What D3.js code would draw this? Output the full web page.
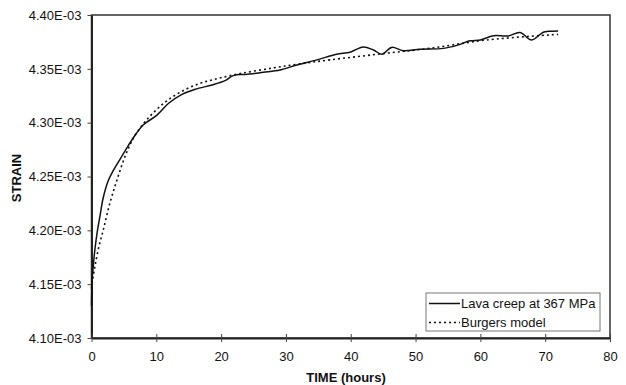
<!DOCTYPE html>
<html>
<head>
<meta charset="utf-8">
<script src="https://cdn.jsdelivr.net/npm/d3@7"></script>
<style>
  body { margin: 0; background: #fff; }
  svg { font-family: "Liberation Sans", Arial, sans-serif; }
</style>
</head>
<body>
<svg id="chart" width="626" height="385"></svg>
<script>
// strain values are in units of 1E-03
var creepTime = [0, 0.1, 0.26, 0.52, 0.92, 1.3, 1.8, 2.58, 3.5, 4.6, 5.7, 6.8, 8.0, 10.1, 11.9, 13.9,
  16.0, 18.6, 20.6, 21.6, 22.4, 23.7, 26.5, 29.1, 31.7, 34.8, 37.8, 39.9, 41.9, 43.5, 44.8, 46.3,
  48.1, 50.7, 54.3, 56.5, 58.4, 60.0, 62.0, 64.3, 66.1, 67.9, 69.7, 70.5, 72.0];
var creepStrain = [4.130, 4.154, 4.166, 4.182, 4.200, 4.213, 4.230, 4.246, 4.257, 4.268, 4.279,
  4.289, 4.298, 4.307, 4.318, 4.326, 4.331, 4.335, 4.339, 4.343, 4.3445, 4.3447, 4.3468, 4.349,
  4.3536, 4.3583, 4.3636, 4.3654, 4.3703, 4.3675, 4.3636, 4.3699, 4.3669, 4.3682, 4.369, 4.372,
  4.376, 4.3768, 4.3808, 4.3806, 4.3838, 4.3768, 4.384, 4.3848, 4.3852];

var modelTime = [0, 0.15, 0.52, 1.03, 1.8, 2.83, 4.1, 5.4, 6.7, 8.5, 10.85, 13.4, 16.5, 19.6, 23.2,
  28, 32, 36.8, 44.5, 52.2, 61, 72];
var modelStrain = [4.146, 4.153, 4.166, 4.182, 4.200, 4.225, 4.250, 4.2720, 4.2880, 4.3025, 4.3165,
  4.3273, 4.336, 4.3412, 4.3459, 4.3508, 4.3545, 4.3583, 4.3638, 4.3691, 4.3768, 4.382];

var xTicks = [0, 10, 20, 30, 40, 50, 60, 70, 80];
var yTicks = [4.10, 4.15, 4.20, 4.25, 4.30, 4.35, 4.40];
var legendLabels = ["Lava creep at 367 MPa", "Burgers model"];

var svg = d3.select("#chart");
var margin = {top: 15, right: 16, bottom: 47, left: 91.5};
var width = 626 - margin.left - margin.right;
var height = 385 - margin.top - margin.bottom;

var x = d3.scaleLinear().domain([0, 80]).range([0, width]);
var y = d3.scaleLinear().domain([4.10, 4.40]).range([height, 0]);

var g = svg.append("g")
  .attr("transform", "translate(" + margin.left + "," + margin.top + ")");

// frame
g.append("rect")
  .attr("width", width)
  .attr("height", height)
  .attr("fill", "none")
  .attr("stroke", "#333")
  .attr("stroke-width", 1.5);

var yAxis = g.append("g")
  .call(d3.axisLeft(y).tickValues(yTicks).tickSize(4).tickSizeOuter(0).tickPadding(6)
    .tickFormat(function (d) { return d.toFixed(2) + "E-03"; }));

var xAxis = g.append("g")
  .attr("transform", "translate(0," + height + ")")
  .call(d3.axisBottom(x).tickValues(xTicks).tickSize(4).tickSizeOuter(0).tickPadding(10));
xAxis.selectAll(".tick line").attr("y1", -4).attr("y2", 4);

[yAxis, xAxis].forEach(function (a) {
  a.select(".domain").attr("stroke", "#222").attr("stroke-width", 2);
  a.selectAll(".tick line").attr("stroke", "#444");
  a.selectAll(".tick text")
    .attr("fill", "#111")
    .style("font-size", "13px")
    .style("font-family", "'Liberation Sans', Arial, sans-serif");
});

var line = d3.line()
  .x(function (d) { return x(d[0]); })
  .y(function (d) { return y(d[1]); })
  .curve(d3.curveCatmullRom);

var modelData = modelTime.map(function (t, i) { return [t, modelStrain[i]]; });
var creepData = creepTime.map(function (t, i) { return [t, creepStrain[i]]; });

g.append("path")
  .datum(modelData)
  .attr("d", line)
  .attr("fill", "none")
  .attr("stroke", "#111")
  .attr("stroke-width", 1.6)
  .attr("stroke-dasharray", "2,3");

g.append("path")
  .datum(creepData)
  .attr("d", line)
  .attr("fill", "none")
  .attr("stroke", "#111")
  .attr("stroke-width", 1.5);

// axis titles
svg.append("text")
  .attr("x", 346)
  .attr("y", 382)
  .attr("text-anchor", "middle")
  .style("font-size", "13px")
  .style("font-weight", "bold")
  .attr("fill", "#111")
  .text("TIME (hours)");

svg.append("text")
  .attr("transform", "translate(20.5,178) rotate(-90)")
  .attr("text-anchor", "middle")
  .style("font-size", "13px")
  .style("font-weight", "bold")
  .attr("fill", "#111")
  .text("STRAIN");

// legend
var legend = svg.append("g").attr("transform", "translate(426,293)");
legend.append("rect")
  .attr("width", 174)
  .attr("height", 38)
  .attr("fill", "#fff")
  .attr("stroke", "#777")
  .attr("stroke-width", 1);

legendLabels.forEach(function (label, i) {
  var ly = 10.5 + i * 19;
  legend.append("line")
    .attr("x1", 3).attr("x2", 34)
    .attr("y1", ly).attr("y2", ly)
    .attr("stroke", "#111")
    .attr("stroke-width", 1.5)
    .attr("stroke-dasharray", i === 1 ? "2,3" : null);
  legend.append("text")
    .attr("x", 35)
    .attr("y", ly + 4.6)
    .style("font-size", "13px")
    .attr("fill", "#111")
    .text(label);
});
</script>
</body>
</html>
